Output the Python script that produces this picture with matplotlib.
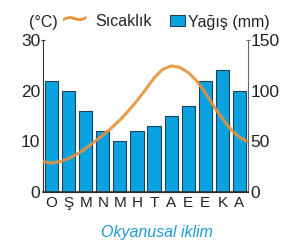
import matplotlib.pyplot as plt
import matplotlib.patches as mpatches
import numpy as np

plt.rcParams['font.family'] = ['Liberation Sans', 'DejaVu Sans']

# Month initials (Ocak ... Aralık)
months = ['O', 'Ş', 'M', 'N', 'M', 'H', 'T', 'A', 'E', 'E', 'K', 'A']
# Precipitation (mm), right axis
rain = [110, 100, 80, 60, 50, 60, 65, 75, 85, 110, 120, 100]
# Temperature (°C), left axis, every half month
temp_x = [-0.5, 0, 0.5, 1, 1.5, 2, 2.5, 3, 3.5, 4, 4.5, 5, 5.5, 6, 6.5,
          7, 7.5, 8, 8.5, 9, 9.5, 10, 10.5, 11, 11.5]
temp = [6.0, 5.7, 6.0, 6.6, 7.5, 8.6, 9.9, 11.2, 12.6, 14.2, 16.0, 18.0, 20.2, 22.5, 24.2,
        24.9, 24.6, 23.6, 21.9, 19.6, 16.9, 14.5, 12.3, 10.8, 9.9]

bar_color = '#0aa3e2'
bar_edge = '#1f3f55'
line_color = '#e8913a'
text_color = '#222222'

fig = plt.figure(figsize=(2.91, 2.5), dpi=100)
ax = fig.add_axes([43 / 291, 58 / 250, 205 / 291, 152 / 250])
ax2 = ax.twinx()

x = np.arange(len(months))
ax2.bar(x, rain, width=0.77, color=bar_color, edgecolor=bar_edge, linewidth=0.8, zorder=2)
ax.plot(temp_x, temp, color=line_color, linewidth=2.2, alpha=0.9,
        solid_capstyle='round', solid_joinstyle='round', zorder=5)
ax.set_zorder(ax2.get_zorder() + 1)
ax.patch.set_visible(False)

ax.set_xlim(-0.5, 11.5)
ax.set_ylim(0, 30)
ax2.set_ylim(0, 150)
ax.set_yticks([0, 10, 20, 30])
ax2.set_yticks([0, 50, 100, 150])
ax.set_xticks(x)
ax.set_xticklabels(months)

for a in (ax, ax2):
    a.spines['top'].set_visible(False)
    a.tick_params(length=0, labelsize=12.5, colors=text_color, pad=2)
ax.spines['left'].set_color('#333333')
ax.spines['right'].set_visible(False)
ax2.spines['left'].set_visible(False)
ax2.spines['right'].set_color('#666666')
ax.spines['bottom'].set_color('#333333')
ax.spines['bottom'].set_linewidth(1.2)
ax.tick_params(axis='x', labelsize=11, pad=3)

# small cap at the top of each vertical axis
ax.yaxis.remove_overlapping_locs = False
ax2.yaxis.remove_overlapping_locs = False
ax.set_yticks([30], minor=True)
ax2.set_yticks([150], minor=True)
ax.tick_params(axis='y', which='minor', length=3, direction='inout', color='#333333', width=0.8)
ax2.tick_params(axis='y', which='minor', length=3, direction='inout', color='#666666', width=0.8)

# legend / units header
fig.text(29 / 291, 1 - 22 / 250, '(°C)', fontsize=11.5, color=text_color, va='center', ha='left')
fig.text(59 / 291, 1 - 20 / 250, '~', fontsize=27, color=line_color, va='center', ha='left',
         family='DejaVu Sans')
fig.text(95 / 291, 1 - 22 / 250, 'Sıcaklık', fontsize=11.5, color=text_color, va='center', ha='left')
fig.patches.append(mpatches.Rectangle((170 / 291, 1 - 26 / 250), 15 / 291, 11 / 250,
                                      transform=fig.transFigure, facecolor=bar_color,
                                      edgecolor=bar_edge, linewidth=0.8))
fig.text(188 / 291, 1 - 22 / 250, 'Yağış (mm)', fontsize=11.5, color=text_color, va='center', ha='left')

fig.text(157 / 291, 1 - 233 / 250, 'Okyanusal iklim', fontsize=11.5, style='italic',
         color='#1f9ad6', ha='center', va='center')

fig.savefig('out.png', dpi=100)
